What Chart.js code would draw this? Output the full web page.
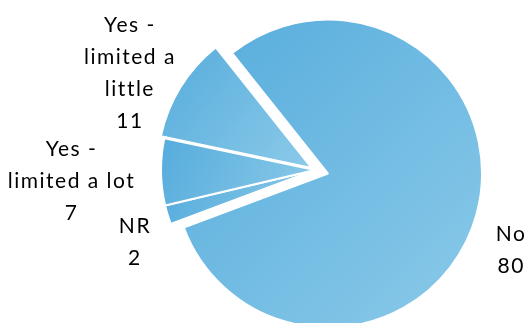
<!DOCTYPE html>
<html>
<head>
<meta charset="utf-8">
<script src="https://cdn.jsdelivr.net/npm/chart.js@4.4.0/dist/chart.umd.min.js"></script>
<style>
    html, body { margin: 0; padding: 0; background: #ffffff; }
</style>
</head>
<body>
<canvas id="pieChart" width="527" height="323"></canvas>
<script>
// Survey answers, clockwise starting with "No"
const categories = ['No', 'NR', 'Yes - limited a lot', 'Yes - limited a little'];
const labelLines = [['No'], ['NR'], ['Yes -', 'limited a lot'], ['Yes -', 'limited a', 'little']];
const counts = [80, 2, 7, 11];

// Slice explode distance (px) and label placement tweaks
const sliceExplode = [13.5, 0, 0, 4];
const labelGap = [27, 22, 26, 1.5];
const labelTurn = [5.6, -3.5, -2.1, -6.1];

const FILL_DARK = '#56acdc';
const FILL_LIGHT = '#8bcae9';
const LABEL_FONT = '21px Lato, "Liberation Sans", sans-serif';
const LINE_HEIGHT = 32;

// Diagonal gradient over each slice's own bounding box
function sliceFill(context) {
    const el = context.element;
    if (!el || !el.outerRadius || el.x === undefined) {
        return FILL_DARK;
    }
    const { x, y, startAngle, endAngle, outerRadius } = el;
    const angles = [startAngle, endAngle];
    const q = Math.PI / 2;
    for (let k = Math.ceil(startAngle / q); k * q <= endAngle; k++) angles.push(k * q);
    let minX = x, maxX = x, minY = y, maxY = y;
    angles.forEach(a => {
        const px = x + Math.cos(a) * outerRadius;
        const py = y + Math.sin(a) * outerRadius;
        minX = Math.min(minX, px); maxX = Math.max(maxX, px);
        minY = Math.min(minY, py); maxY = Math.max(maxY, py);
    });
    const g = context.chart.ctx.createLinearGradient(minX, minY, maxX, maxY);
    g.addColorStop(0, FILL_DARK);
    g.addColorStop(1, FILL_LIGHT);
    return g;
}

// Pull slices out from the centre (keeps their radius unchanged)
const explodePlugin = {
    id: 'explode',
    afterDatasetsUpdate(chart) {
        chart.getDatasetMeta(0).data.forEach((arc, i) => {
            const d = sliceExplode[i];
            if (!d) return;
            const mid = (arc.startAngle + arc.endAngle) / 2;
            arc.x += Math.cos(mid) * d;
            arc.y += Math.sin(mid) * d;
        });
    }
};

// Category + value labels outside each slice
const outsideLabels = {
    id: 'outsideLabels',
    afterDatasetsDraw(chart) {
        const ctx = chart.ctx;
        ctx.save();
        ctx.font = LABEL_FONT;
        ctx.letterSpacing = '1.5px';
        ctx.fillStyle = '#000000';
        ctx.textAlign = 'center';
        ctx.textBaseline = 'middle';
        chart.getDatasetMeta(0).data.forEach((arc, i) => {
            const lines = labelLines[i].concat(String(counts[i]));
            const w = Math.max(...lines.map(t => ctx.measureText(t).width));
            const h = lines.length * LINE_HEIGHT;
            const a = (arc.startAngle + arc.endAngle) / 2 + labelTurn[i] * Math.PI / 180;
            const dx = Math.cos(a), dy = Math.sin(a);
            const r = arc.outerRadius + labelGap[i];
            const cx = arc.x + dx * r + dx * w / 2;
            const cy = arc.y + dy * r + dy * h / 2;
            lines.forEach((t, j) => {
                ctx.fillText(t, cx, cy - h / 2 + LINE_HEIGHT * (j + 0.5));
            });
        });
        ctx.restore();
    }
};

const chart = new Chart(document.getElementById('pieChart'), {
    type: 'pie',
    data: {
        labels: categories,
        datasets: [{
            data: counts,
            backgroundColor: sliceFill,
            borderColor: '#ffffff',
            borderWidth: 2,
            radius: 154
        }]
    },
    options: {
        responsive: false,
        animation: false,
        events: [],
        rotation: -38.5,
        layout: { padding: { left: 103, right: 0, top: 17, bottom: 0 } },
        plugins: {
            legend: { display: false },
            tooltip: { enabled: false }
        }
    },
    plugins: [explodePlugin, outsideLabels]
});

// second pass so the gradients see the final slice geometry
chart.update('none');
</script>
</body>
</html>
